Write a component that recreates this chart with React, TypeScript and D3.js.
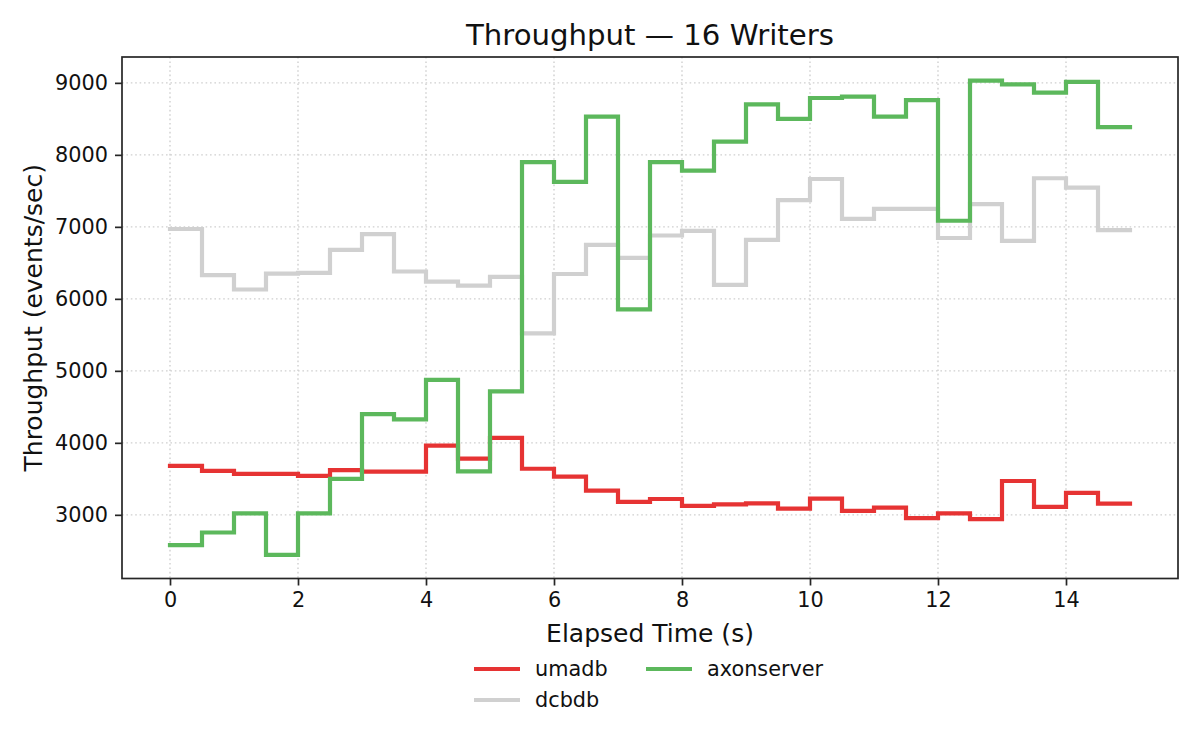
import { useEffect, useRef } from 'react'
import * as d3 from 'd3'

// sample times (s), one every 0.5 s, last point closes the final step
const times = [0, 0.5, 1, 1.5, 2, 2.5, 3, 3.5, 4, 4.5, 5, 5.5, 6, 6.5, 7, 7.5, 8, 8.5, 9, 9.5, 10, 10.5, 11, 11.5, 12, 12.5, 13, 13.5, 14, 14.5, 15]

const umadb = [3680, 3610, 3570, 3570, 3540, 3620, 3600, 3600, 3960, 3780, 4070, 3640, 3530, 3335, 3180, 3220, 3125, 3145, 3160, 3085, 3225, 3055, 3100, 2955, 3020, 2940, 3470, 3110, 3305, 3155, 3155]
const dcbdb = [6970, 6330, 6130, 6350, 6360, 6680, 6900, 6380, 6240, 6185, 6305, 5520, 6345, 6750, 6570, 6880, 6945, 6195, 6820, 7370, 7665, 7110, 7250, 7250, 6845, 7315, 6805, 7675, 7545, 6955, 6955]
const axonserver = [2580, 2755, 3020, 2445, 3020, 3500, 4400, 4325, 4875, 3605, 4715, 7900, 7625, 8530, 5855, 7900, 7780, 8185, 8700, 8500, 8790, 8810, 8530, 8760, 7085, 9030, 8980, 8865, 9015, 8385, 8385]

const seriesNames = ['umadb', 'dcbdb', 'axonserver']
const seriesColors = ['#e63333', '#d0d0d0', '#5cb85c']
const seriesValues = [umadb, dcbdb, axonserver]

const xTicks = [0, 2, 4, 6, 8, 10, 12, 14]
const yTicks = [3000, 4000, 5000, 6000, 7000, 8000, 9000]

const W = 1200, H = 750
const m = { l: 122, r: 1178, t: 57, b: 578.5 }
const FONT = '"DejaVu Sans", sans-serif'

export default function App() {
  const ref = useRef<SVGSVGElement>(null)

  useEffect(() => {
    document.body.style.margin = '0'
    const svg = d3.select(ref.current!)
    svg.selectAll('*').remove()

    // matplotlib style 5% margins
    const xr = d3.extent(times) as [number, number]
    const xPad = (xr[1] - xr[0]) * 0.05
    const all = seriesValues.flat()
    const yr = [d3.min(all)!, d3.max(all)!]
    const yPad = (yr[1] - yr[0]) * 0.05
    const x = d3.scaleLinear().domain([xr[0] - xPad, xr[1] + xPad]).range([m.l, m.r])
    const y = d3.scaleLinear().domain([yr[0] - yPad, yr[1] + yPad]).range([m.b, m.t])

    svg.append('rect').attr('width', W).attr('height', H).attr('fill', '#fff')

    // grid
    const grid = svg.append('g').attr('stroke', '#cfcfcf').attr('stroke-width', 1.4).attr('stroke-dasharray', '1.6,2.8')
    xTicks.forEach(t => grid.append('line').attr('x1', x(t)).attr('x2', x(t)).attr('y1', m.t).attr('y2', m.b))
    yTicks.forEach(t => grid.append('line').attr('x1', m.l).attr('x2', m.r).attr('y1', y(t)).attr('y2', y(t)))

    // step lines
    const line = d3.line<number>().x((_, i) => x(times[i])).y(v => y(v)).curve(d3.curveStepAfter)
    svg.append('defs').append('clipPath').attr('id', 'clip')
      .append('rect').attr('x', m.l).attr('y', m.t).attr('width', m.r - m.l).attr('height', m.b - m.t)
    const lines = svg.append('g').attr('clip-path', 'url(#clip)')
    seriesValues.forEach((vals, i) => {
      lines.append('path').attr('d', line(vals)!).attr('fill', 'none')
        .attr('stroke', seriesColors[i]).attr('stroke-width', 4.2).attr('stroke-linejoin', 'miter').attr('stroke-linecap', 'square')
    })

    // axes
    const xAxis = svg.append('g').attr('transform', `translate(0,${m.b})`)
      .call(d3.axisBottom(x).tickValues(xTicks).tickSize(7).tickPadding(7).tickFormat(d3.format('d')))
    const yAxis = svg.append('g').attr('transform', `translate(${m.l},0)`)
      .call(d3.axisLeft(y).tickValues(yTicks).tickSize(7).tickPadding(7).tickFormat(d3.format('d')))
    ;[xAxis, yAxis].forEach(a => {
      a.select('.domain').remove()
      a.selectAll('line').attr('stroke', '#262626').attr('stroke-width', 1.7)
      a.selectAll('text').attr('fill', '#111').attr('font-size', 20.8).attr('font-family', FONT)
    })
    svg.append('rect').attr('x', m.l).attr('y', m.t).attr('width', m.r - m.l).attr('height', m.b - m.t)
      .attr('fill', 'none').attr('stroke', '#262626').attr('stroke-width', 1.7)

    // labels
    const cx = (m.l + m.r) / 2
    svg.append('text').attr('x', cx).attr('y', 44.5).attr('text-anchor', 'middle')
      .attr('font-family', FONT).attr('font-size', 29.2).attr('fill', '#111').text('Throughput — 16 Writers')
    svg.append('text').attr('x', cx).attr('y', 641.5).attr('text-anchor', 'middle')
      .attr('font-family', FONT).attr('font-size', 25).attr('fill', '#111').text('Elapsed Time (s)')
    svg.append('text').attr('transform', `translate(41.7,${(m.t + m.b) / 2}) rotate(-90)`).attr('text-anchor', 'middle')
      .attr('font-family', FONT).attr('font-size', 25).attr('fill', '#111').text('Throughput (events/sec)')

    // legend, two columns filled column-wise
    const legX = [474, 646], legY = [669, 700]
    seriesNames.forEach((name, i) => {
      const col = Math.floor(i / 2), row = i % 2
      const g = svg.append('g').attr('transform', `translate(${legX[col]},${legY[row]})`)
      g.append('line').attr('x1', 0).attr('x2', 46).attr('stroke', seriesColors[i]).attr('stroke-width', 4.2)
      g.append('text').attr('x', 61).attr('dy', '0.35em').attr('font-family', FONT).attr('font-size', 20.8)
        .attr('fill', '#111').text(name)
    })
  }, [])

  return <svg ref={ref} width={W} height={H} style={{ display: 'block' }} />
}
